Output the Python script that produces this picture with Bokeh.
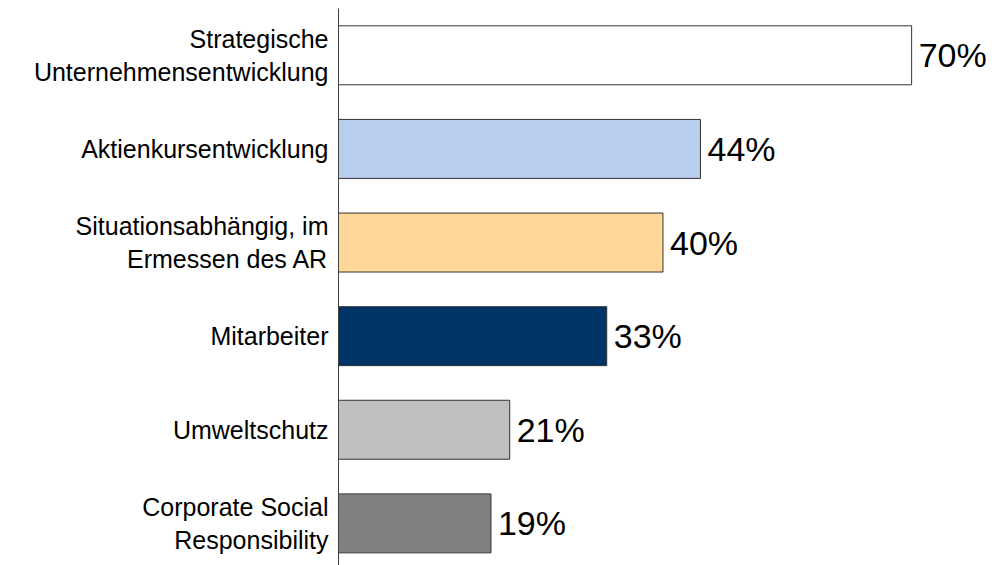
from bokeh.plotting import figure
from bokeh.models import Range1d, FixedTicker
from bokeh.embed import file_html
from bokeh.resources import INLINE
from bokeh.core.properties import value

categories = [
    "Strategische\nUnternehmensentwicklung",
    "Aktienkursentwicklung",
    "Situationsabhängig, im\nErmessen des AR",
    "Mitarbeiter",
    "Umweltschutz",
    "Corporate Social\nResponsibility",
]
values = [70.3, 44.4, 39.8, 32.9, 21.0, 18.7]
value_labels = ["70%", "44%", "40%", "33%", "21%", "19%"]
colors = ["#FFFFFF", "#B9CDED", "#FFD899", "#003366", "#C0C0C0", "#808080"]

n = len(categories)
ypos = [n - i - 0.5 for i in range(n)]

p = figure(width=1000, height=565, output_backend="svg", toolbar_location=None,
           x_range=Range1d(0, 81.2), y_range=Range1d(0.05, 6.0),
           min_border_left=338, min_border_right=0, min_border_top=8, min_border_bottom=0)
p.outline_line_color = None
p.grid.visible = False
p.xaxis.visible = False

p.hbar(y=ypos, right=values, left=0, height=0.63, fill_color=colors,
       line_color="#333333", line_width=1)

p.text(x=values, y=ypos, text=value_labels, x_offset=7, text_baseline="middle",
       text_align="left", text_font=value("Liberation Sans"), text_font_size="34px",
       text_color="#000000")

ax = p.yaxis[0]
ax.ticker = FixedTicker(ticks=ypos)
ax.major_label_overrides = {y: c for y, c in zip(ypos, categories)}
ax.major_tick_out = 0
ax.major_tick_in = 0
ax.minor_tick_out = 0
ax.minor_tick_in = 0
ax.axis_line_color = "#404040"
ax.major_label_standoff = 10
ax.major_label_text_font = "Liberation Sans"
ax.major_label_text_font_size = "25px"
ax.major_label_text_color = "#000000"

open("out.html", "w").write(file_html(p, INLINE))
